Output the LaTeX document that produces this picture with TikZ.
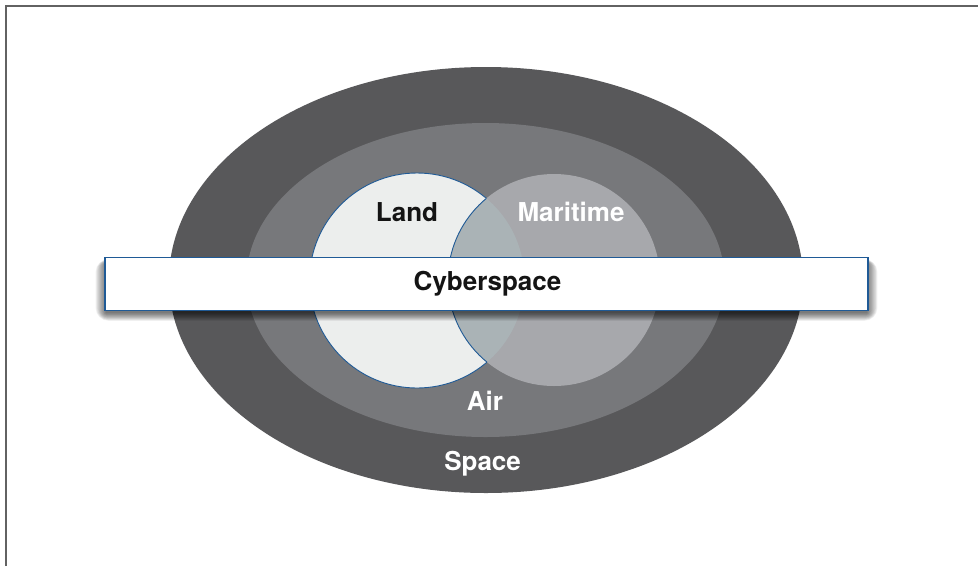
\documentclass[tikz,border=0pt]{standalone}
\usepackage{fontspec}
\setmainfont{TeX Gyre Heros}
\definecolor{spacegray}{HTML}{58585A}
\definecolor{airgray}{HTML}{77787B}
\definecolor{landfill}{HTML}{ECEEED}
\definecolor{seafill}{HTML}{A7A8AC}
\definecolor{lensfill}{HTML}{AAB3B6}
\definecolor{edgeblue}{HTML}{1F5A96}
\definecolor{framegray}{HTML}{626262}
\tikzset{
  domainlabel/.style={anchor=base, font=\fontsize{26}{30}\selectfont\bfseries, inner sep=0pt},
  lightlabel/.style={domainlabel, text=white},
  darklabel/.style={domainlabel, text=black!92},
  barbox/.style={fill=white, draw=edgeblue, line width=1.1pt},
}
\begin{document}
\begin{tikzpicture}[x=1pt, y=-1pt]
  \useasboundingbox (0,0) rectangle (978,566);
  % page frame (open to the right and bottom)
  \draw[framegray, line width=1.7pt] (5.8,566) -- (5.8,5.8) -- (978,5.8);

  % nested domains
  \fill[spacegray] (486,280) ellipse [x radius=317, y radius=213];
  \fill[airgray]   (485.5,280) ellipse [x radius=239, y radius=157];

  % land and maritime circles
  \fill[landfill, draw=edgeblue, line width=0.9pt] (417,280.5) circle [radius=107.5];
  \fill[seafill] (554,280) circle [radius=106];
  \begin{scope}
    \clip (554,280) circle [radius=106];
    \fill[lensfill] (417,280.5) circle [radius=107.5];
  \end{scope}
  \begin{scope}
    \clip (417,280.5) circle [radius=107.5];
    \draw[edgeblue, line width=0.9pt] (554,280) circle [radius=106];
  \end{scope}

  % soft shadow under the cyberspace bar
  \foreach \k in {0,1,...,13}{
    \fill[black, opacity=0.05, rounded corners=\k pt]
      (106-\k*0.8,263-\k*0.3) rectangle (867+\k*0.8,313+\k*0.6);
  }
  \node[barbox, minimum width=763pt, minimum height=53pt, inner sep=0pt] (cyberbar) at (486.5,283.7) {};

  % labels
  \node[darklabel]  (land)     at (407,221.7) {Land};
  \node[lightlabel] (maritime) at (571,221.5) {Maritime};
  \node[darklabel]  (cyber)    at (487.5,290) {Cyberspace};
  \node[lightlabel] (air)      at (485,410.7) {Air};
  \node[lightlabel] (space)    at (482.6,470) {Space};
\end{tikzpicture}
\end{document}
